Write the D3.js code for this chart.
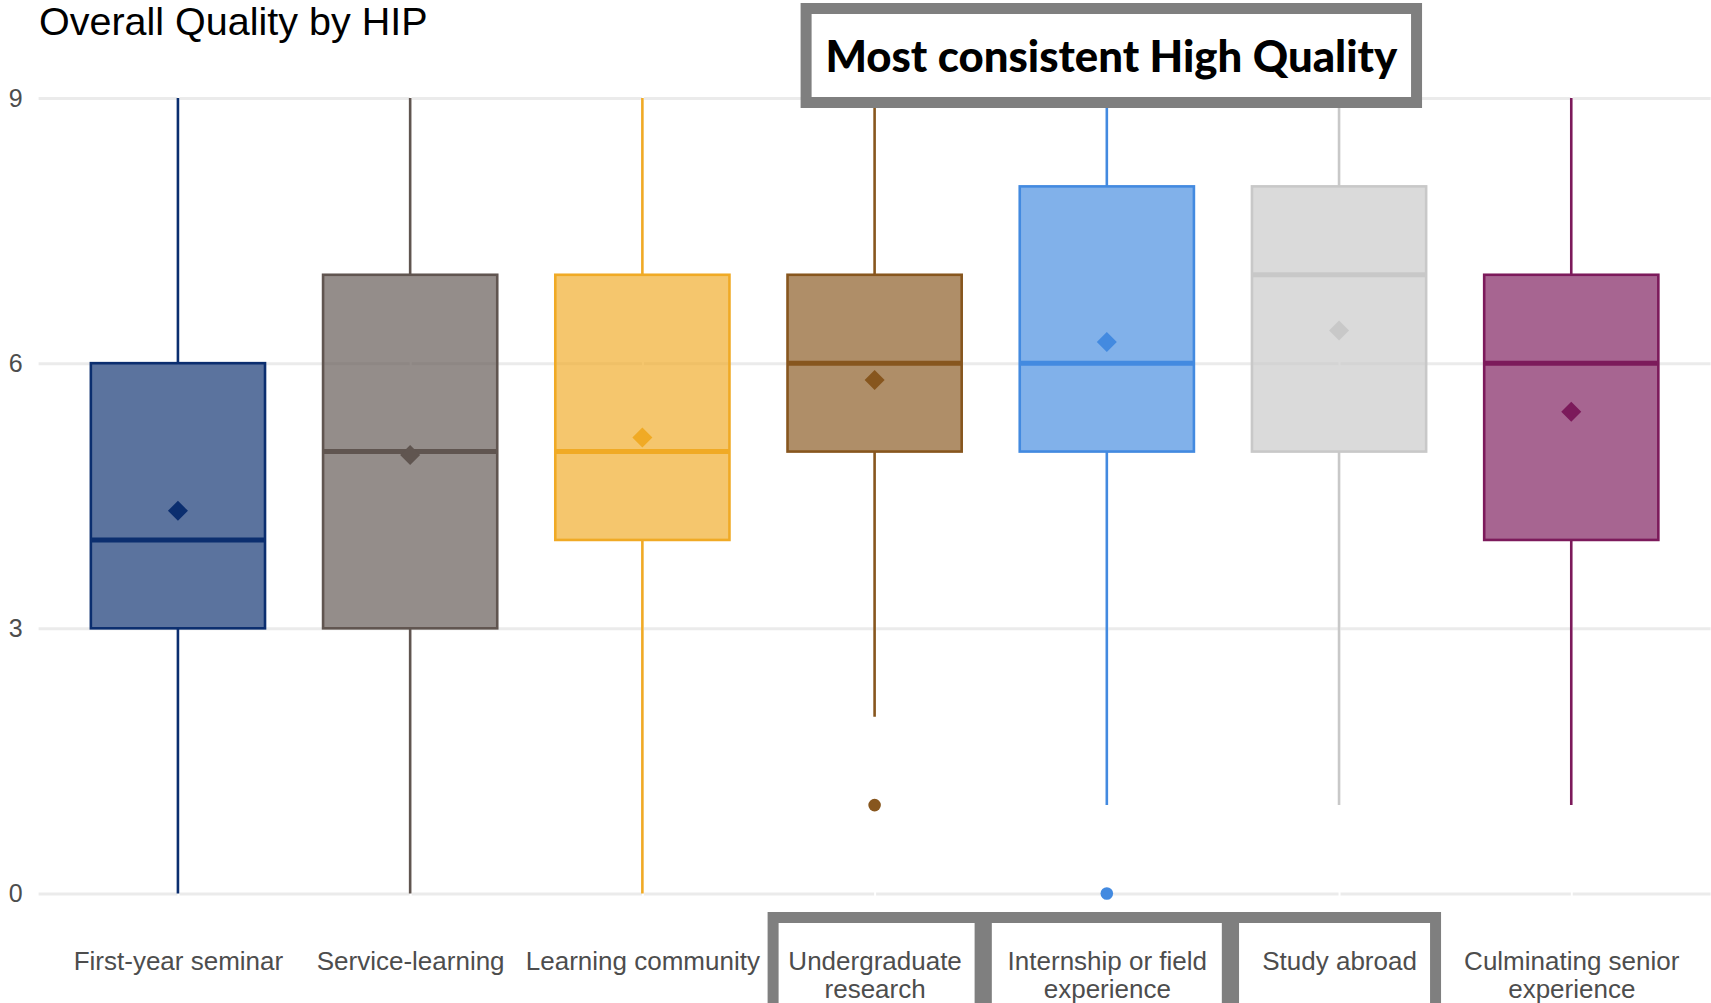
<!DOCTYPE html>
<html>
<head>
<meta charset="utf-8">
<script src="https://cdn.jsdelivr.net/npm/d3@7"></script>
<style>
  body { margin: 0; background: #fff; }
  svg { display: block; font-family: "Liberation Sans", Arial, sans-serif; }
</style>
</head>
<body>
<svg id="canvas" width="1711" height="1003"></svg>
<script>
// data
let categories = ['First-year seminar', 'Service-learning', 'Learning community', 'Undergraduate\nresearch',
                  'Internship or field\nexperience', 'Study abroad', 'Culminating senior\nexperience']
let lowerWhisker = [0, 0, 0, 2, 1, 1, 1]
let q1 = [3, 3, 4, 5, 5, 5, 4]
let medians = [4, 5, 5, 6, 6, 7, 6]
let q3 = [6, 7, 7, 7, 8, 8, 7]
let upperWhisker = [9, 9, 9, 9, 9, 9, 9]
let means = [4.33, 4.96, 5.16, 5.81, 6.24, 6.37, 5.45]
let outliers = [[], [], [], [1], [0], [], []]
let yTicks = [0, 3, 6, 9]

let palette = ['#0B2E6F', '#605550', '#F0AA25', '#87561E', '#438AE0', '#C8C8C8', '#7C1A5B']

let svg = d3.select('#canvas')

let x = d3.scalePoint()
          .domain(categories)
          .range([38.6, 1710.6])
          .padding(0.6)

let y = d3.scaleLinear()
          .domain([0, 9])
          .range([893.5, 98])

let color = d3.scaleOrdinal().domain(categories).range(palette)

let boxHalf = x.step() * 0.375

// title
svg.append('text')
   .attr('x', 39)
   .attr('y', 35)
   .attr('font-size', 39.5)
   .attr('fill', '#000')
   .text('Overall Quality by HIP')

// horizontal grid
let grid = svg.append('g')
              .attr('transform', 'translate(38.6,0)')
              .call(d3.axisRight(y).tickValues(yTicks).tickSize(1672).tickFormat(''))
grid.select('.domain').remove()
grid.selectAll('line').attr('stroke', '#EBEBEB').attr('stroke-width', 3)

// faint white vertical grid at category centres
let vgrid = svg.append('g')
               .attr('transform', 'translate(0,58)')
               .call(d3.axisBottom(x).tickSize(875).tickFormat(''))
vgrid.select('.domain').remove()
vgrid.selectAll('line').attr('stroke', '#fff').attr('stroke-width', 2)

// y labels
let yAxis = svg.append('g')
               .attr('transform', 'translate(38.6,0)')
               .call(d3.axisLeft(y).tickValues(yTicks).tickSize(0).tickPadding(16))
yAxis.select('.domain').remove()
yAxis.selectAll('text')
     .attr('font-size', 25)
     .attr('font-family', '"Liberation Sans", Arial, sans-serif')
     .attr('fill', '#4D4D4D')

// x labels
let xAxis = svg.append('g')
               .attr('transform', 'translate(0,893.5)')
               .call(d3.axisBottom(x).tickSize(0))
xAxis.select('.domain').remove()
xAxis.selectAll('text')
     .attr('y', 76.5)
     .attr('dy', null)
     .attr('font-size', 26)
     .attr('font-family', '"Liberation Sans", Arial, sans-serif')
     .attr('fill', '#4D4D4D')
     .each(function (d) {
         let t = d3.select(this)
         t.text('')
         d.split('\n').forEach((line, i) => {
             t.append('tspan')
              .attr('x', 0)
              .attr('dy', i ? 28 : 0)
              .text(line)
         })
     })

// boxes
let block = svg.selectAll('g.box')
               .data(categories)
               .enter()
               .append('g')
               .attr('class', 'box')
               .attr('transform', (d) => 'translate(' + x(d) + ',0)')

block.append('line')
     .attr('y1', (d, i) => y(q3[i]))
     .attr('y2', (d, i) => y(upperWhisker[i]))
     .attr('stroke', (d) => color(d))
     .attr('stroke-width', 2.6)

block.append('line')
     .attr('y1', (d, i) => y(q1[i]))
     .attr('y2', (d, i) => y(lowerWhisker[i]))
     .attr('stroke', (d) => color(d))
     .attr('stroke-width', 2.6)

block.append('rect')
     .attr('x', -boxHalf)
     .attr('width', boxHalf * 2)
     .attr('y', (d, i) => y(q3[i]))
     .attr('height', (d, i) => y(q1[i]) - y(q3[i]))
     .attr('fill', (d) => color(d))
     .attr('fill-opacity', 0.67)
     .attr('stroke', (d) => color(d))
     .attr('stroke-width', 2.6)

block.append('line')
     .attr('x1', -boxHalf)
     .attr('x2', boxHalf)
     .attr('y1', (d, i) => y(medians[i]))
     .attr('y2', (d, i) => y(medians[i]))
     .attr('stroke', (d) => color(d))
     .attr('stroke-width', 5)

block.selectAll('circle')
     .data((d, i) => outliers[i].map((v) => ({ v: v, c: d })))
     .enter()
     .append('circle')
     .attr('cy', (o) => y(o.v))
     .attr('r', 6.3)
     .attr('fill', (o) => color(o.c))

block.append('path')
     .attr('d', d3.symbol(d3.symbolSquare, 200))
     .attr('transform', (d, i) => 'translate(0,' + y(means[i]) + ') rotate(45)')
     .attr('fill', (d) => color(d))

// annotation boxes
let frame = '#7F7F7F'
let fw = 11

let topLeft = x(categories[3]) - 74
let topRight = x(categories[5]) + 83
svg.append('rect')
   .attr('x', topLeft + fw / 2)
   .attr('y', 3 + fw / 2)
   .attr('width', topRight - topLeft - fw)
   .attr('height', 105 - fw)
   .attr('fill', '#fff')
   .attr('stroke', frame)
   .attr('stroke-width', fw)

let note = svg.append('text')
              .attr('x', (topLeft + topRight) / 2)
              .attr('y', 72)
              .attr('text-anchor', 'middle')
              .attr('font-family', 'Lato, "Open Sans", sans-serif')
              .attr('font-weight', 900)
              .attr('font-size', 44)
              .attr('fill', '#000')
              .text('Most consistent High Quality')
let w = note.node().getComputedTextLength()
note.attr('font-size', 44 * 572 / w)

let lowBoxes = [
    { c: categories[3], l: -107, r: 111 },
    { c: categories[4], l: -126, r: 126 },
    { c: categories[5], l: -111, r: 102 }
]
svg.selectAll('rect.hl')
   .data(lowBoxes)
   .enter()
   .append('rect')
   .attr('class', 'hl')
   .attr('x', (b) => x(b.c) + b.l + fw / 2)
   .attr('y', 912 + fw / 2)
   .attr('width', (b) => b.r - b.l - fw)
   .attr('height', 140)
   .attr('fill', 'none')
   .attr('stroke', frame)
   .attr('stroke-width', fw)
</script>
</body>
</html>
